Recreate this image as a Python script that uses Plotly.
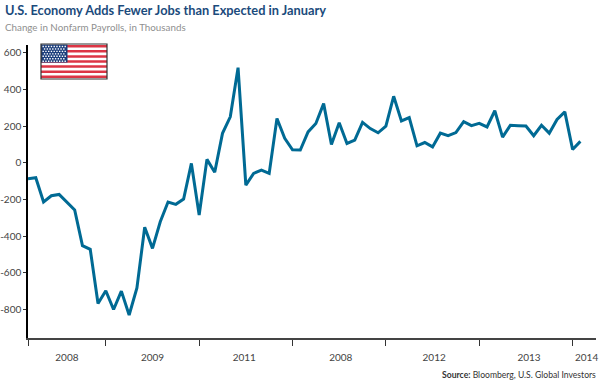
import plotly.graph_objects as go

payrolls = [-87, -82, -214, -180, -173, -215, -258, -452, -472, -767, -698, -800,
            -700, -830, -682, -352, -467, -322, -214, -227, -198, -4, -285, 18,
            -52, 160, 250, 518, -122, -58, -40, -58, 241, 133, 70, 69,
            168, 214, 322, 99, 218, 105, 123, 220, 186, 163, 199, 362,
            228, 246, 92, 110, 86, 161, 147, 164, 224, 202, 214, 195,
            283, 139, 204, 202, 200, 147, 204, 161, 236, 277, 72, 116]
month_index = list(range(len(payrolls)))
year_labels = ["2008", "2009", "2011", "2008", "2012", "2013", "2014"]
year_label_pos = [5, 16, 27.8, 40.2, 52.2, 64.4, 71.8]
year_boundaries = [0, 10, 22, 34, 46, 58, 70]
y_ticks = [-800, -600, -400, -200, 0, 200, 400, 600]

W, H = 600, 385
L, R, T, B = 28, 596, 45, 338
FONT = "Lato, Liberation Sans, sans-serif"


def px(x):
    return (x - L) / (R - L)


def py(y):
    return (B - y) / (B - T)


def rect(x0, y0, x1, y1, color, line=None):
    return dict(type="rect", xref="paper", yref="paper", layer="above",
                x0=px(x0), x1=px(x1), y0=py(y0), y1=py(y1), fillcolor=color,
                line=dict(color=line or color, width=1 if line else 0))


fig = go.Figure(go.Scatter(x=month_index, y=payrolls, mode="lines",
                           line=dict(color="#006a94", width=3),
                           hoverinfo="skip", showlegend=False, cliponaxis=False))

# flag
shapes = [rect(41, 44, 107, 79, "#ffffff")]
for k in range(7):
    y0 = 45 + k * 33 / 6.5
    shapes.append(rect(41, y0, 107, y0 + 33 / 13, "#dc3545"))
shapes.append(rect(41, 44.5, 67.5, 62.5, "#1d3f7c"))
for r in range(7):
    for c in range(9 if r % 2 == 0 else 8):
        cx = 43.2 + c * 2.75 + (1.37 if r % 2 else 0)
        cy = 46.5 + r * 2.45
        shapes.append(rect(cx - 0.7, cy - 0.7, cx + 0.7, cy + 0.7, "#ffffff"))
shapes.append(dict(type="rect", xref="paper", yref="paper", layer="above",
                   x0=px(41), x1=px(107), y0=py(44), y1=py(79),
                   line=dict(color="#333333", width=1.2), fillcolor="rgba(0,0,0,0)"))
# soft shadow beneath the x axis line
shapes.append(dict(type="line", xref="paper", yref="paper", layer="below",
                   x0=0, x1=1, y0=py(339.5), y1=py(339.5),
                   line=dict(color="#c4c4c4", width=1)))

fig.update_layout(
    width=W, height=H, autosize=False,
    margin=dict(l=L, r=W - R, t=T, b=H - B, pad=0),
    paper_bgcolor="white", plot_bgcolor="white",
    font=dict(family=FONT, size=10, color="#444444"),
    shapes=shapes,
    xaxis=dict(automargin=False, range=[0, (R - L) / 7.78], showgrid=False, zeroline=False,
               showline=True, linecolor="#444444", linewidth=1.5,
               tickmode="array", tickvals=year_label_pos, ticktext=year_labels,
               ticks="", ticklabelstandoff=9,
               tickfont=dict(size=10, color="#444444"),
               minor=dict(tickmode="array", tickvals=year_boundaries,
                          ticks="outside", ticklen=6, tickwidth=1.2,
                          tickcolor="#333333", showgrid=False)),
    yaxis=dict(automargin=False, range=[(162.7 - B) / 0.1835, (162.7 - T) / 0.1835], showgrid=False,
               zeroline=False, showline=True, linecolor="#000000", linewidth=1.5,
               tickmode="array", tickvals=y_ticks,
               ticktext=[str(v) for v in y_ticks],
               ticks="outside", ticklen=3, tickwidth=1, tickcolor="#333333",
               tickfont=dict(size=10, color="#444444")),
    annotations=[
        dict(text="<b>U.S. Economy Adds Fewer Jobs than Expected in January</b>",
             xref="paper", yref="paper", x=px(3), y=py(10.5), xanchor="left", yanchor="middle",
             showarrow=False, font=dict(size=12.8, color="#1b4b7c", family=FONT)),
        dict(text="Change in Nonfarm Payrolls, in Thousands",
             xref="paper", yref="paper", x=px(3), y=py(27), xanchor="left", yanchor="middle",
             showarrow=False, font=dict(size=9.8, color="#8f8f8f", family=FONT)),
        dict(text="<b>Source:</b> Bloomberg, U.S. Global Investors",
             xref="paper", yref="paper", x=px(598), y=py(375), xanchor="right", yanchor="middle",
             showarrow=False, font=dict(size=8.6, color="#333333", family=FONT)),
    ],
)

fig.write_html("out.html", post_script="document.body.style.margin='0';",
               config=dict(displayModeBar=False))
